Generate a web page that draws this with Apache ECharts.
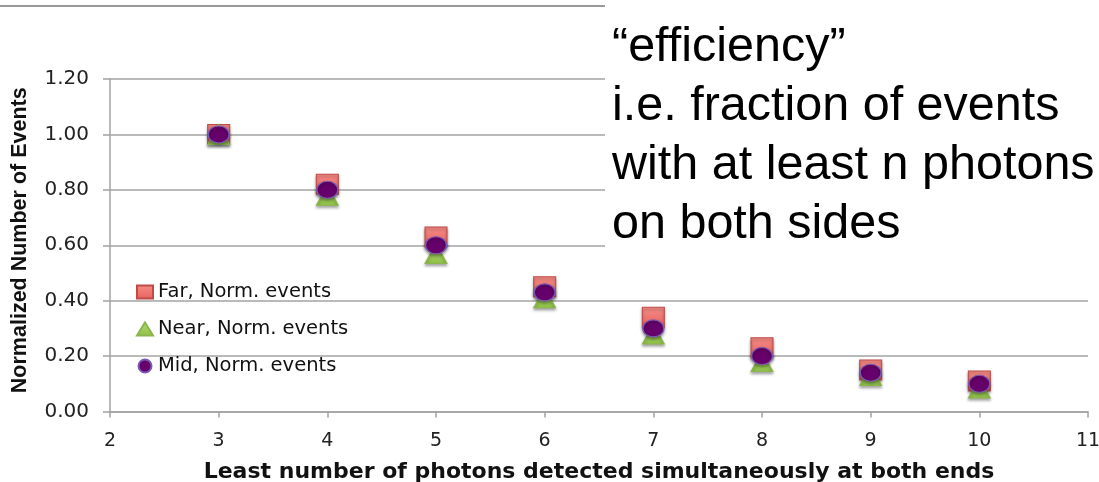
<!DOCTYPE html>
<html>
<head>
<meta charset="utf-8">
<title>Normalized Number of Events</title>
<script src="https://cdn.jsdelivr.net/npm/echarts@6/dist/echarts.min.js"></script>
<style>
  html, body { margin: 0; padding: 0; background: #fff; }
  #chart { width: 1099px; height: 482px; }
</style>
</head>
<body>
<div id="chart"></div>
<script>
// Minimum photon count required at both ends
const photons = [3, 4, 5, 6, 7, 8, 9, 10];

// Fraction of events surviving the cut, per source position
const farEvents  = [1.00, 0.82, 0.63, 0.45, 0.34, 0.23, 0.15, 0.11];
const nearEvents = [1.00, 0.78, 0.57, 0.41, 0.28, 0.18, 0.13, 0.085];
const midEvents  = [1.00, 0.80, 0.60, 0.43, 0.30, 0.20, 0.14, 0.10];

const seriesNames = ['Far, Norm. events', 'Near, Norm. events', 'Mid, Norm. events'];
const noteLines = ['\u201Cefficiency\u201D', 'i.e. fraction of events', 'with at least n photons', 'on both sides'];

const pairs = (ys) => photons.map((x, i) => [x, ys[i]]);
const ellipse = 'path://M0 50 A50 50 0 1 1 100 50 A50 50 0 1 1 0 50 Z';

const gridColor = '#a3a3a3';
const markerShadow = { opacity: 1, shadowColor: 'rgba(0,0,0,0.35)', shadowBlur: 3, shadowOffsetY: 2 };

const chart = echarts.init(document.getElementById('chart'), null, { renderer: 'canvas' });

chart.setOption({
  backgroundColor: '#ffffff',
  animation: false,
  grid: { left: 110, right: 11, top: 79, bottom: 70.5, containLabel: false, outerBoundsMode: 'none' },
  legend: {
    orient: 'vertical',
    left: 131,
    top: 277,
    itemWidth: 16,
    itemHeight: 13,
    itemGap: 17,
    textStyle: { fontFamily: 'DejaVu Sans', fontSize: 19.5, color: '#111' },
    data: [
      { name: seriesNames[0], icon: 'rect' },
      { name: seriesNames[1], icon: 'triangle' },
      { name: seriesNames[2], icon: 'circle' }
    ]
  },
  xAxis: {
    type: 'value',
    min: 2,
    max: 11,
    interval: 1,
    name: 'Least number of photons detected simultaneously at both ends',
    nameLocation: 'middle',
    nameGap: 50,
    nameTextStyle: { fontFamily: 'DejaVu Sans', fontWeight: 'bold', fontSize: 22, color: '#111' },
    axisLine: { lineStyle: { color: gridColor, width: 1.5 } },
    axisTick: { show: true, length: 6, lineStyle: { color: gridColor, width: 1.5 } },
    axisLabel: { margin: 20, fontFamily: 'DejaVu Sans', fontSize: 19, color: '#222' },
    splitLine: { show: false }
  },
  yAxis: {
    type: 'value',
    min: 0,
    max: 1.2,
    interval: 0.2,
    name: 'Normalized Number of Events',
    nameLocation: 'middle',
    nameGap: 79,
    nameRotate: 90,
    nameTextStyle: { fontFamily: 'Liberation Sans', fontWeight: 'bold', fontSize: 21.5, color: '#111', padding: [0, 0, 0, 10] },
    axisLine: { show: true, lineStyle: { color: gridColor, width: 1.5 } },
    axisTick: { show: true, length: 7, lineStyle: { color: gridColor, width: 1.5 } },
    axisLabel: {
      margin: 21,
      fontFamily: 'DejaVu Sans',
      fontSize: 20,
      color: '#222',
      formatter: (v) => v.toFixed(2)
    },
    splitLine: { show: true, lineStyle: { color: gridColor, width: 1.5 } }
  },
  graphic: [
    // rule across the top of the slide
    {
      type: 'line', z: 1,
      shape: { x1: 0, y1: 6, x2: 605, y2: 6 },
      style: { stroke: '#9a9a9a', lineWidth: 2 }
    },
    // white panel behind the note text
    {
      type: 'rect', z: 1,
      shape: { x: 605, y: 0, width: 494, height: 272 },
      style: { fill: '#ffffff' }
    },
    {
      type: 'text', z: 1,
      left: 612, top: 18,
      style: {
        text: noteLines.join('\n'),
        fontFamily: 'Liberation Sans',
        fontSize: 48.5,
        lineHeight: 59,
        fill: '#000'
      }
    }
  ],
  series: [
    {
      name: seriesNames[0],
      type: 'scatter',
      symbol: 'rect',
      symbolSize: [22, 20],
      data: pairs(farEvents),
      itemStyle: Object.assign({
        color: new echarts.graphic.LinearGradient(0, 0, 0, 1, [
          { offset: 0, color: '#f58c87' },
          { offset: 1, color: '#e8615d' }
        ]),
        borderColor: '#be4b48',
        borderWidth: 1
      }, markerShadow)
    },
    {
      name: seriesNames[1],
      type: 'scatter',
      symbol: 'triangle',
      symbolSize: [22, 20],
      data: pairs(nearEvents),
      itemStyle: Object.assign({
        color: new echarts.graphic.LinearGradient(0, 0, 0, 1, [
          { offset: 0, color: '#b3da72' },
          { offset: 1, color: '#8fc048' }
        ]),
        borderColor: '#8db54e',
        borderWidth: 1
      }, markerShadow)
    },
    {
      name: seriesNames[2],
      type: 'scatter',
      symbol: ellipse,
      symbolSize: [21, 17],
      data: pairs(midEvents),
      itemStyle: Object.assign({
        color: '#66006a',
        borderColor: '#7a5cb8',
        borderWidth: 1.2
      }, markerShadow)
    }
  ]
});
</script>
</body>
</html>
